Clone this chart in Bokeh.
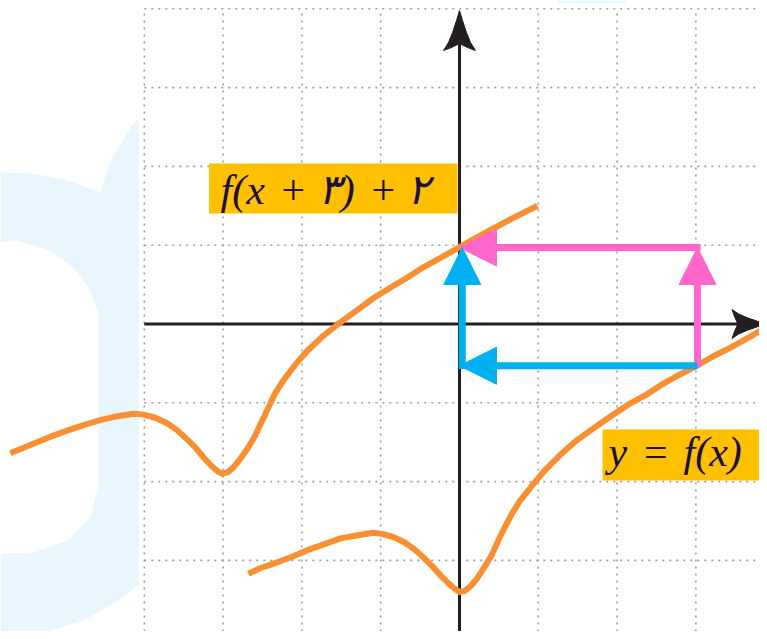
from bokeh.plotting import figure
from bokeh.models import Range1d, Arrow, NormalHead
from bokeh.core.properties import value
from bokeh.embed import file_html
from bokeh.resources import INLINE

# ---------------- data ----------------
# y = f(x)
f_x = [-2.68, -2.53, -2.36, -2.14, -1.93, -1.73, -1.51, -1.29, -1.09, -1.00,
       -0.85, -0.70, -0.57, -0.44, -0.34, -0.24, -0.14, -0.06, 0.00, 0.06,
       0.14, 0.23, 0.32, 0.41, 0.49, 0.58, 0.67, 0.77, 0.93, 1.08, 1.27,
       1.47, 1.69, 1.92, 2.13, 2.35, 2.55, 2.78, 3.01, 3.22, 3.44, 3.69, 3.91]
f_y = [-3.17, -3.10, -3.04, -2.96, -2.87, -2.80, -2.72, -2.68, -2.65, -2.66,
       -2.70, -2.77, -2.86, -2.98, -3.08, -3.19, -3.29, -3.36, -3.40, -3.39,
       -3.33, -3.22, -3.08, -2.93, -2.75, -2.57, -2.40, -2.24, -2.04, -1.86,
       -1.67, -1.49, -1.33, -1.17, -1.03, -0.91, -0.78, -0.65, -0.53, -0.41,
       -0.30, -0.16, -0.03]
# shifted curve  f(x+3)+2
g_x = [-5.70, -5.41, -5.19, -4.97, -4.76, -4.56, -4.34, -4.14, -4.01, -3.86,
       -3.71, -3.58, -3.45, -3.35, -3.25, -3.15, -3.07, -3.01, -2.94, -2.87,
       -2.78, -2.69, -2.60, -2.51, -2.42, -2.34, -2.23, -2.08, -1.93, -1.74,
       -1.54, -1.32, -1.09, -0.88, -0.66, -0.46, -0.24, -0.01, 0.20, 0.39,
       0.69, 0.99]
g_y = [-1.64, -1.52, -1.43, -1.35, -1.28, -1.22, -1.17, -1.14, -1.15, -1.19,
       -1.26, -1.35, -1.47, -1.57, -1.69, -1.80, -1.87, -1.90, -1.88, -1.82,
       -1.71, -1.58, -1.43, -1.24, -1.05, -0.88, -0.71, -0.51, -0.34, -0.16,
       0.00, 0.16, 0.33, 0.46, 0.59, 0.72, 0.84, 0.97, 1.09, 1.19, 1.35, 1.50]
grid_x = [-4, -3, -2, -1, 0, 1, 2, 3]
grid_y = [-4, -3, -2, -1, 0, 1, 2, 3, 4]
# point on y=f(x) and its image on the shifted curve
pt_x, pt_y = 3.02, -0.53
img_x, img_y = 0.0, 0.97
label_shifted = "f(x\u200a + \u06f3)\u200a + \u06f2"
label_f = "y\u200a = \u200af(x)"

# ---------------- layout constants ----------------
UNIT = 78.8
OX, OY = 459.0, 323.5
W, H = 759, 631
X_MIN, X_MAX = -OX / UNIT, (W - OX) / UNIT
Y_MAX, Y_MIN = OY / UNIT, (OY - H) / UNIT

ORANGE = "#FA8F32"
BLUE = "#00B0F0"
PINK = "#FF66CC"
GOLD = "#FFC000"
INK = "#1D0F3F"
AXIS = "#231F20"
WASH = "#EAF6FD"


def px2d(px, py):
    return (px - OX) / UNIT, (OY - py) / UNIT


p = figure(width=W, height=H, x_range=Range1d(X_MIN, X_MAX),
           y_range=Range1d(Y_MIN, Y_MAX), output_backend="svg",
           toolbar_location=None, min_border=0,
           x_axis_location=None, y_axis_location=None)
p.grid.visible = False
p.outline_line_color = None
p.background_fill_color = "white"
p.border_fill_color = "white"

# faint watermark
outer_px = [(0, 172), (33, 173), (67, 180), (100, 192), (104, 178), (110, 160),
            (120, 143), (130, 127), (138, 117), (138, 585), (133, 588),
            (113, 603), (83, 620), (43, 632), (0, 634)]
hole_px = [(0, 242), (17, 240), (50, 250), (73, 267), (90, 290), (98, 313),
           (98, 483), (90, 517), (67, 540), (33, 552), (0, 553)]
ox_ = [px2d(a, b)[0] for a, b in outer_px]
oy_ = [px2d(a, b)[1] for a, b in outer_px]
hx_ = [px2d(a, b)[0] for a, b in hole_px]
hy_ = [px2d(a, b)[1] for a, b in hole_px]
p.multi_polygons(xs=[[[ox_, hx_]]], ys=[[[oy_, hy_]]], fill_color=WASH,
                 line_color=None)
sx0, sy0 = px2d(557, 3)
sx1, _ = px2d(625, 0)
p.quad(left=[sx0], right=[sx1], top=[Y_MAX], bottom=[sy0], fill_color=WASH,
       line_color=None)

# dotted grid
p.segment(x0=grid_x, y0=[Y_MIN] * len(grid_x), x1=grid_x, y1=[4] * len(grid_x),
          line_color="#9E9E9E", line_width=1.6, line_dash="2 5")
p.segment(x0=[-4] * len(grid_y), y0=grid_y, x1=[X_MAX] * len(grid_y), y1=grid_y,
          line_color="#9E9E9E", line_width=1.6, line_dash="2 5")

# label boxes
p.quad(left=[-3.178], right=[-0.025], top=[2.037], bottom=[1.402],
       fill_color=GOLD, line_color=None)
p.quad(left=[1.815], right=[X_MAX + 0.1], top=[-1.339], bottom=[-1.986],
       fill_color=GOLD, line_color=None)

# axes
y_tip = 3.978
x_tip = 3.89
p.segment(x0=[0], y0=[Y_MIN], x1=[0], y1=[y_tip - 30 / UNIT], line_color=AXIS,
          line_width=3)
p.segment(x0=[-4], y0=[0], x1=[x_tip - 26 / UNIT], y1=[0], line_color=AXIS,
          line_width=3)
head = [(0, 0), (-3, -10), (-7, -22), (-11, -32), (-16, -40), (-8, -37),
        (-2, -34), (2, -34), (8, -37), (16, -40), (11, -32), (7, -22), (3, -10)]
p.patch(x=[a / UNIT for a, b in head], y=[y_tip + b / UNIT for a, b in head],
        fill_color=AXIS, line_color=AXIS, line_width=1)
p.patch(x=[x_tip + b * 0.85 / UNIT for a, b in head],
        y=[a * 0.9 / UNIT for a, b in head],
        fill_color=AXIS, line_color=AXIS, line_width=1)

# curves
p.line(g_x, g_y, line_color=ORANGE, line_width=6, line_join="round")
p.line(f_x, f_y, line_color=ORANGE, line_width=6, line_join="round")


# mapping arrows
def add_arrow(xs, ys, xe, ye, color):
    p.add_layout(Arrow(end=NormalHead(size=37, fill_color=color, line_color=color,
                                      line_width=1),
                       x_start=xs, y_start=ys, x_end=xe, y_end=ye,
                       line_color=color, line_width=7))


add_arrow(pt_x, pt_y - 0.02, pt_x, img_y, PINK)
add_arrow(pt_x + 0.04, img_y, img_x, img_y, PINK)
add_arrow(pt_x, pt_y, img_x, pt_y, BLUE)
add_arrow(img_x + 0.035, pt_y - 0.04, img_x + 0.035, img_y, BLUE)

# label texts
TEXT_SHIFT = 15 / UNIT
p.text(x=[-3.033], y=[1.504 + TEXT_SHIFT], text=[label_shifted],
       text_font=value("Liberation Serif"), text_font_style="italic",
       text_font_size="42px", text_color=INK, text_baseline="alphabetic",
       text_align="left")
p.text(x=[1.891], y=[-1.821 + TEXT_SHIFT], text=[label_f],
       text_font=value("Liberation Serif"), text_font_style="italic",
       text_font_size="42px", text_color=INK, text_baseline="alphabetic",
       text_align="left")

open("out.html", "w").write(file_html(p, INLINE))
